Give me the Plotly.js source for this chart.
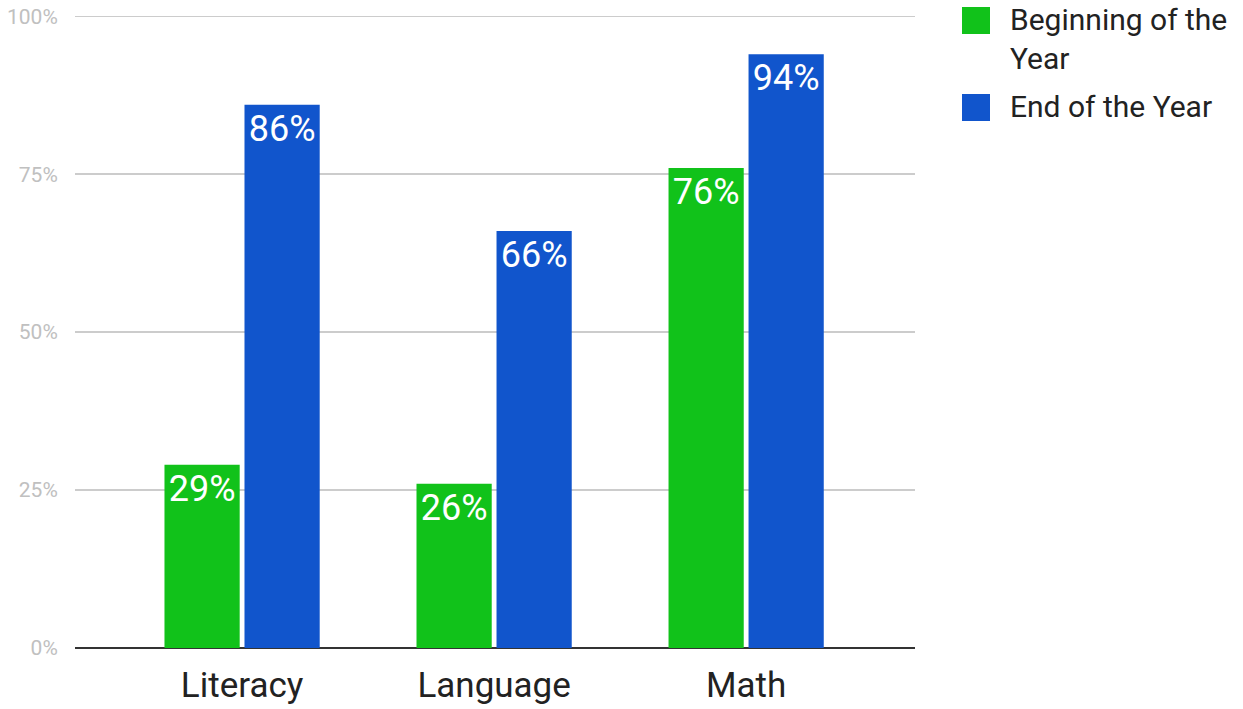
<!DOCTYPE html>
<html><head><meta charset="utf-8">
<script src="https://cdn.plot.ly/plotly-3.0.1.min.js"></script>
<style>html,body{margin:0;padding:0;background:#fff}#chart{width:1243px;height:709px}</style>
</head><body><div id="chart"></div>
<script>
const categories = ["Literacy", "Language", "Math"];
const seriesNames = ["Beginning of the<br>Year", "End of the Year"];
const beginningValues = [29, 26, 76];
const endValues = [86, 66, 94];
const yTickVals = [0, 25, 50, 75, 100];

const colors = ["#11c21a", "#1155cc"];
const traces = [beginningValues, endValues].map((vals, i) => ({
  type: "bar",
  name: seriesNames[i],
  x: categories,
  y: vals,
  text: vals.map(v => v + "%"),
  textposition: "inside",
  insidetextanchor: "end",
  textangle: 0,
  textfont: {family: "Roboto", size: 36, color: "#ffffff"},
  marker: {color: colors[i]},
  hoverinfo: "none",
  showlegend: false
}));

// Custom legend (larger swatches as in the reference)
const W = 840, H = 633, L = 75, T = 15;
const px = x => (x - L) / W;
const py = y => (T + H - y) / H;
const swatchTops = [7, 94];
const textTops = [0, 87];
const shapes = [], annotations = [];
seriesNames.forEach((name, i) => {
  shapes.push({
    type: "rect", xref: "paper", yref: "paper",
    x0: px(962), x1: px(990), y0: py(swatchTops[i]), y1: py(swatchTops[i] + 27),
    fillcolor: colors[i], line: {width: 0}, layer: "above"
  });
  annotations.push({
    xref: "paper", yref: "paper", x: px(1008), y: py(textTops[i]),
    xanchor: "left", yanchor: "top", align: "left", showarrow: false, text: name,
    font: {family: "Roboto", size: 30, color: "#222"}
  });
});

const layout = {
  width: 1243, height: 709,
  margin: {l: 75, r: 328, t: 15, b: 61, autoexpand: false},
  paper_bgcolor: "#fff", plot_bgcolor: "#fff",
  font: {family: "Roboto"},
  barmode: "group",
  bargap: 0.365,
  bargroupgap: 0.06,
  xaxis: {
    range: [-0.663, 2.67],
    tickfont: {family: "Roboto", size: 35, color: "#222"},
    showgrid: false, showline: false, zeroline: false,
    ticks: "outside", ticklen: 6, tickcolor: "rgba(0,0,0,0)"
  },
  yaxis: {
    range: [0, 100.2],
    tickvals: yTickVals,
    ticktext: yTickVals.map(v => v + "%"),
    tickfont: {family: "Roboto", size: 21, color: "#c0c0c0"},
    showgrid: true, gridcolor: "#cccccc", gridwidth: 1.5,
    zeroline: true, zerolinecolor: "#333333", zerolinewidth: 2,
    ticks: "outside", ticklen: 12, tickcolor: "rgba(0,0,0,0)",
    showline: false
  },
  showlegend: false,
  shapes: shapes,
  annotations: annotations
};
Plotly.newPlot("chart", traces, layout, {displayModeBar: false, staticPlot: true});
</script></body></html>
